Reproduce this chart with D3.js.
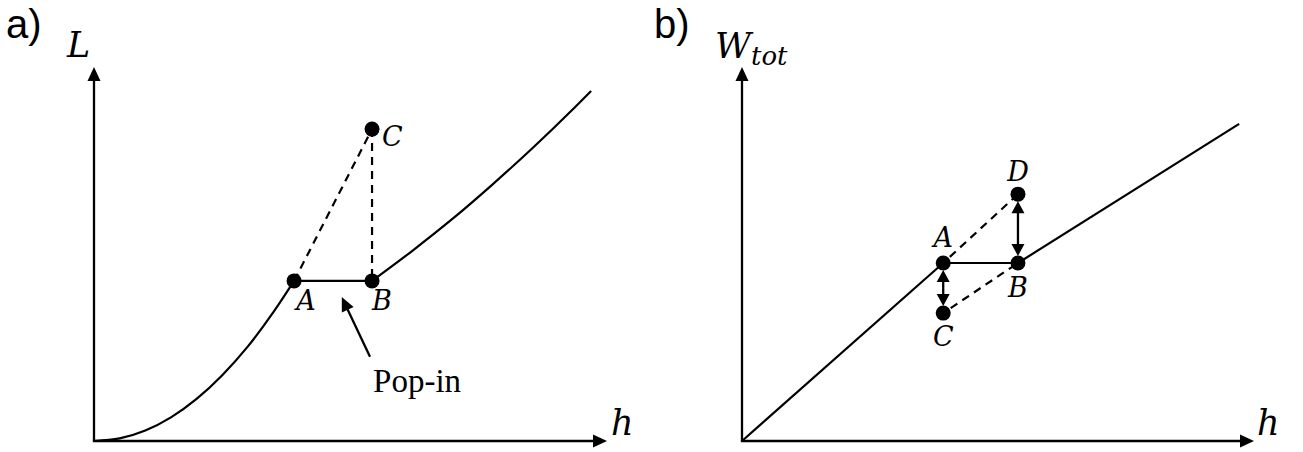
<!DOCTYPE html>
<html>
<head>
<meta charset="utf-8">
<script src="https://cdn.jsdelivr.net/npm/d3@7"></script>
<style>
  html, body { margin: 0; padding: 0; background: #fff; }
  svg { display: block; }
  .math { font-family: "DejaVu Serif", serif; font-style: italic; fill: #000; }
  .tag { font-family: "Liberation Sans", Arial, sans-serif; fill: #000; }
  .note { font-family: "Liberation Serif", "Times New Roman", serif; fill: #000; }
</style>
</head>
<body>
<svg id="chart" width="1303" height="452"></svg>
<script>
// ---- Panel a: load L versus depth h, with a pop-in step ----
const loadH   = [0, 5, 10, 15, 20, 25, 30, 35, 39.0];
const loadL   = [0, 0.70, 2.81, 6.33, 11.26, 17.6, 25.3, 34.5, 42.8];
const reloadH = [54.2, 62.0, 69.8, 77.6, 85.4, 93.2, 96.9];
const reloadL = [42.8, 50.8, 59.3, 68.5, 78.2, 88.5, 93.6];
const ptNamesA = ["A", "B", "C"];
const ptHA     = [39.0, 54.2, 54.2];
const ptLA     = [42.8, 42.8, 83.4];

// ---- Panel b: total work W_tot versus depth h ----
const workH1 = [0, 39.3];
const workW1 = [0, 47.6];
const workH2 = [53.9, 97.1];
const workW2 = [47.6, 84.8];
const ptNamesB = ["A", "B", "C", "D"];
const ptHB     = [39.3, 53.9, 39.3, 53.9];
const ptWB     = [47.6, 47.6, 34.2, 66.0];

const svg = d3.select("#chart");
const defs = svg.append("defs");

// filled arrowhead whose tip sits past the line end
defs.append("marker")
  .attr("id", "head")
  .attr("markerUnits", "userSpaceOnUse")
  .attr("viewBox", "-7 -7 16 14")
  .attr("refX", 0).attr("refY", 0)
  .attr("markerWidth", 16).attr("markerHeight", 14)
  .attr("orient", "auto-start-reverse")
  .append("path").attr("d", "M9,0 L-5,-6.5 L-5,6.5 Z").attr("fill", "#000");

defs.append("marker")
  .attr("id", "headSmall")
  .attr("markerUnits", "userSpaceOnUse")
  .attr("viewBox", "-7 -7 16 14")
  .attr("refX", 0).attr("refY", 0)
  .attr("markerWidth", 16).attr("markerHeight", 14)
  .attr("orient", "auto-start-reverse")
  .append("path").attr("d", "M7,0 L-5,-6.5 L-5,6.5 Z").attr("fill", "#000");

const zip = (xs, ys) => xs.map((x, i) => [x, ys[i]]);

function shorten(p0, p1, d0, d1) {
  const dx = p1[0] - p0[0], dy = p1[1] - p0[1];
  const len = Math.hypot(dx, dy);
  const ux = dx / len, uy = dy / len;
  return [[p0[0] + ux * d0, p0[1] + uy * d0], [p1[0] - ux * d1, p1[1] - uy * d1]];
}

function drawAxes(g, x, y) {
  const x0 = x(0), y0 = y(0);
  g.append("line")
    .attr("x1", x0).attr("y1", y0)
    .attr("x2", x0).attr("y2", y(100) + 9)
    .attr("stroke", "#000").attr("stroke-width", 2.3)
    .attr("marker-end", "url(#head)");
  g.append("line")
    .attr("x1", x0 - 1.15).attr("y1", y0)
    .attr("x2", x(100) - 9).attr("y2", y0)
    .attr("stroke", "#000").attr("stroke-width", 2.3)
    .attr("marker-end", "url(#head)");
}

const line = d3.line().curve(d3.curveMonotoneX);
const LW = 2.2;

// ================= Panel a =================
{
  const x = d3.scaleLinear().domain([0, 100]).range([94, 607]);
  const y = d3.scaleLinear().domain([0, 100]).range([441, 67]);
  const g = svg.append("g");
  drawAxes(g, x, y);

  const px = (h, v) => [x(h), y(v)];
  const pts = ptNamesA.map((n, i) => ({ name: n, p: px(ptHA[i], ptLA[i]) }));
  const A = pts[0].p, B = pts[1].p, C = pts[2].p;

  // dashed paths through C
  g.append("line")
    .attr("x1", A[0]).attr("y1", A[1]).attr("x2", C[0]).attr("y2", C[1])
    .attr("stroke", "#000").attr("stroke-width", LW).attr("stroke-dasharray", "8,6");
  g.append("line")
    .attr("x1", C[0]).attr("y1", C[1]).attr("x2", B[0]).attr("y2", B[1])
    .attr("stroke", "#000").attr("stroke-width", LW).attr("stroke-dasharray", "8,6");

  // loading curve
  g.append("path")
    .attr("d", line(zip(loadH, loadL).map(d => px(d[0], d[1]))))
    .attr("fill", "none").attr("stroke", "#000").attr("stroke-width", LW);
  // pop-in step
  g.append("line")
    .attr("x1", A[0]).attr("y1", A[1]).attr("x2", B[0]).attr("y2", B[1])
    .attr("stroke", "#000").attr("stroke-width", LW);
  // continued loading
  g.append("path")
    .attr("d", line(zip(reloadH, reloadL).map(d => px(d[0], d[1]))))
    .attr("fill", "none").attr("stroke", "#000").attr("stroke-width", LW);

  g.selectAll("circle").data(pts).join("circle")
    .attr("cx", d => d.p[0]).attr("cy", d => d.p[1]).attr("r", 7.5).attr("fill", "#000");

  // point labels
  g.append("text").attr("class", "math").attr("font-size", 27)
    .attr("x", A[0] + 12).attr("y", A[1] + 29).attr("text-anchor", "middle").text("A");
  g.append("text").attr("class", "math").attr("font-size", 27)
    .attr("x", B[0] + 10).attr("y", B[1] + 29).attr("text-anchor", "middle").text("B");
  g.append("text").attr("class", "math").attr("font-size", 27)
    .attr("x", C[0] + 10).attr("y", C[1] + 17).attr("text-anchor", "start").text("C");

  // Pop-in callout
  const tail = px(53.8, 22.5), tip = px(48.3, 38.5);
  const seg = shorten(tail, tip, 0, 9);
  g.append("line")
    .attr("x1", seg[0][0]).attr("y1", seg[0][1]).attr("x2", seg[1][0]).attr("y2", seg[1][1])
    .attr("stroke", "#000").attr("stroke-width", 2.3)
    .attr("marker-end", "url(#head)");
  g.append("text").attr("class", "note").attr("font-size", 33)
    .attr("x", x(54.4)).attr("y", y(13.1)).text("Pop-in");

  // axis titles and panel tag
  g.append("text").attr("class", "math").attr("font-size", 35)
    .attr("x", 67).attr("y", 57).text("L");
  g.append("text").attr("class", "math").attr("font-size", 35)
    .attr("x", 611).attr("y", 435).text("h");
  g.append("text").attr("class", "tag").attr("font-size", 40)
    .attr("x", 6).attr("y", 38).text("a)");
}

// ================= Panel b =================
{
  const x = d3.scaleLinear().domain([0, 100]).range([742, 1254]);
  const y = d3.scaleLinear().domain([0, 100]).range([441, 67]);
  const g = svg.append("g");
  drawAxes(g, x, y);

  const px = (h, v) => [x(h), y(v)];
  const pts = ptNamesB.map((n, i) => ({ name: n, p: px(ptHB[i], ptWB[i]) }));
  const A = pts[0].p, B = pts[1].p, C = pts[2].p, D = pts[3].p;

  // dashed extensions
  [[A, D], [C, B]].forEach(([p, q]) => {
    const s = shorten(p, q, 9, 6);
    g.append("line")
      .attr("x1", s[0][0]).attr("y1", s[0][1]).attr("x2", s[1][0]).attr("y2", s[1][1])
      .attr("stroke", "#000").attr("stroke-width", LW).attr("stroke-dasharray", "8,6");
  });

  g.append("path")
    .attr("d", d3.line()(zip(workH1, workW1).map(d => px(d[0], d[1]))))
    .attr("fill", "none").attr("stroke", "#000").attr("stroke-width", LW);
  g.append("line")
    .attr("x1", A[0]).attr("y1", A[1]).attr("x2", B[0]).attr("y2", B[1])
    .attr("stroke", "#000").attr("stroke-width", LW);
  g.append("path")
    .attr("d", d3.line()(zip(workH2, workW2).map(d => px(d[0], d[1]))))
    .attr("fill", "none").attr("stroke", "#000").attr("stroke-width", LW);

  // double-headed arrows between A–C and D–B
  [[A, C], [D, B]].forEach(([p, q]) => {
    const s = shorten(p, q, 14, 14);
    g.append("line")
      .attr("x1", s[0][0]).attr("y1", s[0][1]).attr("x2", s[1][0]).attr("y2", s[1][1])
      .attr("stroke", "#000").attr("stroke-width", 2.3)
      .attr("marker-start", "url(#headSmall)")
      .attr("marker-end", "url(#headSmall)");
  });

  g.selectAll("circle").data(pts).join("circle")
    .attr("cx", d => d.p[0]).attr("cy", d => d.p[1]).attr("r", 7.5).attr("fill", "#000");

  g.append("text").attr("class", "math").attr("font-size", 27)
    .attr("x", A[0]).attr("y", A[1] - 16).attr("text-anchor", "middle").text("A");
  g.append("text").attr("class", "math").attr("font-size", 27)
    .attr("x", B[0]).attr("y", B[1] + 34).attr("text-anchor", "middle").text("B");
  g.append("text").attr("class", "math").attr("font-size", 27)
    .attr("x", C[0]).attr("y", C[1] + 33).attr("text-anchor", "middle").text("C");
  g.append("text").attr("class", "math").attr("font-size", 27)
    .attr("x", D[0]).attr("y", D[1] - 13).attr("text-anchor", "middle").text("D");

  const wt = g.append("text").attr("class", "math").attr("font-size", 35)
    .attr("x", 715).attr("y", 58);
  wt.append("tspan").text("W");
  wt.append("tspan").attr("font-size", 26).attr("dy", 7).text("tot");
  g.append("text").attr("class", "math").attr("font-size", 35)
    .attr("x", 1257).attr("y", 435).text("h");
  g.append("text").attr("class", "tag").attr("font-size", 40)
    .attr("x", 654).attr("y", 38).text("b)");
}
</script>
</body>
</html>
